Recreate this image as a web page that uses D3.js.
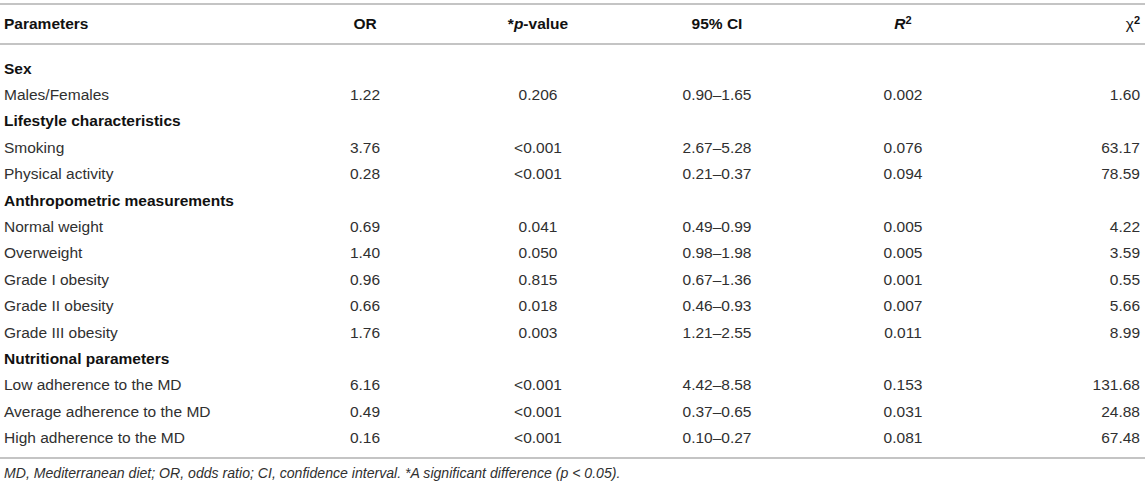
<!DOCTYPE html>
<html>
<head>
<meta charset="utf-8">
<script src="https://cdn.jsdelivr.net/npm/d3@7"></script>
<style>
  body { margin: 0; background: #fff; }
  svg text { font-family: "Liberation Sans", Arial, Helvetica, sans-serif; }
</style>
</head>
<body>
<svg id="table"></svg>
<script>
/* table values */
var groupTitles = ["Sex", "Lifestyle characteristics", "Anthropometric measurements", "Nutritional parameters"];
var groupSizes = [1, 2, 5, 3];
var parameters = ["Males/Females", "Smoking", "Physical activity", "Normal weight", "Overweight",
  "Grade I obesity", "Grade II obesity", "Grade III obesity", "Low adherence to the MD",
  "Average adherence to the MD", "High adherence to the MD"];
var orValues = ["1.22", "3.76", "0.28", "0.69", "1.40", "0.96", "0.66", "1.76", "6.16", "0.49", "0.16"];
var pValues = ["0.206", "<0.001", "<0.001", "0.041", "0.050", "0.815", "0.018", "0.003", "<0.001", "<0.001", "<0.001"];
var ciValues = ["0.90\u20131.65", "2.67\u20135.28", "0.21\u20130.37", "0.49\u20130.99", "0.98\u20131.98",
  "0.67\u20131.36", "0.46\u20130.93", "1.21\u20132.55", "4.42\u20138.58", "0.37\u20130.65", "0.10\u20130.27"];
var r2Values = ["0.002", "0.076", "0.094", "0.005", "0.005", "0.001", "0.007", "0.011", "0.153", "0.031", "0.081"];
var chi2Values = ["1.60", "63.17", "78.59", "4.22", "3.59", "0.55", "5.66", "8.99", "131.68", "24.88", "67.48"];
var columns = ["param", "or", "p", "ci", "r2", "chi2"];
var footnote = "MD, Mediterranean diet; OR, odds ratio; CI, confidence interval. *A significant difference (p < 0.05).";

var width = 1145, height = 487,
    fontSize = 15.5,
    lineColor = "#c4c4c4",
    textColor = "#303030";

/* flatten groups + rows into one list of table lines */
var rows = [];
var k = 0;
groupTitles.forEach(function(t, gi){
  rows.push({ head: true, cells: [t] });
  for (var j = 0; j < groupSizes[gi]; j++, k++) {
    rows.push({ head: false,
      cells: [parameters[k], orValues[k], pValues[k], ciValues[k], r2Values[k], chi2Values[k]] });
  }
});

var svg = d3.select("#table").attr("width", width).attr("height", height);

/* scales */
var yScale = d3.scaleBand()
  .domain(d3.range(rows.length))
  .range([55, 55 + 26.4 * rows.length]);

var xScale = d3.scaleOrdinal()
  .domain(columns)
  .range([4, 365, 538, 717, 903, 1140]);

var anchor = d3.scaleOrdinal()
  .domain(columns)
  .range(["start", "middle", "middle", "middle", "middle", "end"]);

/* rules */
var rules = [4, 44, 458];
svg.selectAll("line.rule")
  .data(rules)
  .enter().append("line")
    .attr("class", "rule")
    .attr("x1", 0).attr("x2", width)
    .attr("y1", function(d){ return d; })
    .attr("y2", function(d){ return d; })
    .attr("stroke", lineColor)
    .attr("stroke-width", 2);

/* header */
var headerY = 24;
var header = svg.append("g").attr("class", "header")
  .style("font-size", fontSize + "px")
  .style("font-weight", "bold")
  .attr("fill", "#111");

function headCell(col){
  return header.append("text")
    .attr("x", xScale(col))
    .attr("y", headerY)
    .attr("dy", "0.35em")
    .attr("text-anchor", anchor(col));
}

headCell("param").text("Parameters");
headCell("or").text("OR");
var ph = headCell("p");
ph.append("tspan").text("*");
ph.append("tspan").style("font-style", "italic").text("p");
ph.append("tspan").text("-value");
headCell("ci").text("95% CI");
var rh = headCell("r2");
rh.append("tspan").style("font-style", "italic").text("R");
rh.append("tspan").attr("dy", "-0.45em").style("font-size", "11px").text("2");
var ch = headCell("chi2");
ch.append("tspan").style("font-weight", "normal").text("\u03c7");
ch.append("tspan").attr("dy", "-0.45em").style("font-size", "11px").text("2");

/* body */
var body = svg.append("g").attr("class", "body")
  .style("font-size", fontSize + "px");

var rowG = body.selectAll("g.row")
  .data(rows)
  .enter().append("g")
    .attr("class", "row")
    .attr("transform", function(d, i){
      return "translate(0," + (yScale(i) + yScale.bandwidth() / 2) + ")";
    });

rowG.selectAll("text")
  .data(function(d){
    return d.cells.map(function(c, ci){ return { text: c, col: columns[ci], head: d.head }; });
  })
  .enter().append("text")
    .attr("x", function(d){ return xScale(d.col); })
    .attr("dy", "0.35em")
    .attr("text-anchor", function(d){ return anchor(d.col); })
    .attr("fill", function(d){ return d.head ? "#111" : textColor; })
    .style("font-weight", function(d){ return d.head ? "bold" : "normal"; })
    .text(function(d){ return d.text; });

/* footnote */
svg.append("text")
  .attr("x", 4)
  .attr("y", 473)
  .attr("dy", "0.35em")
  .attr("fill", textColor)
  .style("font-size", "14.1px")
  .style("font-style", "italic")
  .text(footnote);
</script>
</body>
</html>
